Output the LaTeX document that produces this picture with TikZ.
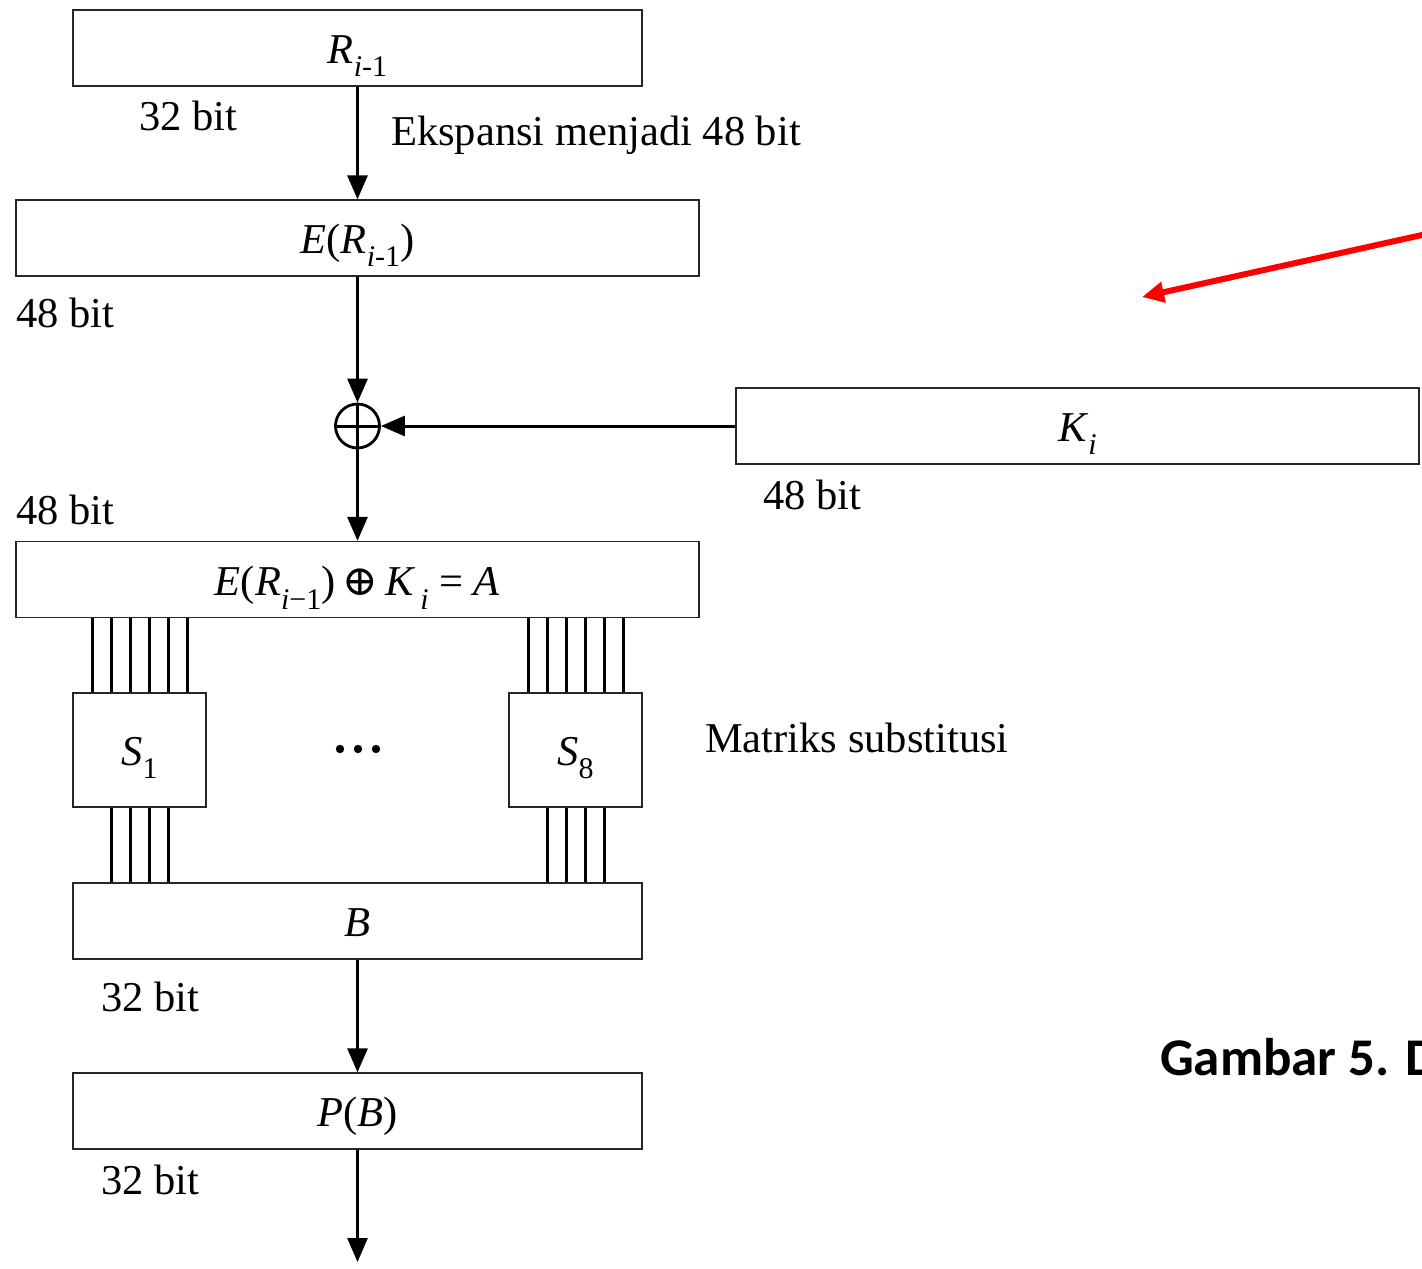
\documentclass[tikz,border=0pt]{standalone}
\usepackage{fontspec}
\usepackage{graphicx}
\setmainfont{Liberation Serif}
\newfontfamily\capfont{Carlito}
\newfontfamily\symf{DejaVu Serif}
\usetikzlibrary{arrows.meta}
\newcommand\sbx[1]{\raisebox{-0.32em}{\fontsize{30}{30}\selectfont #1}}
\begin{document}
\begin{tikzpicture}[x=1pt,y=-1pt,
  every node/.style={font=\fontsize{42.5}{50}\selectfont},
  box/.style={draw=black!85, line width=1.4pt, minimum height=76pt, inner sep=0pt, text height=30pt, text depth=0pt},
  arr/.style={line width=3pt, -{Triangle[length=24pt,width=20pt]}},
  wire/.style={line width=3pt},
  lbl/.style={anchor=base west, inner sep=0pt}]
\clip (0,0) rectangle (1422,1269);
% boxes
\node[box, minimum width=569pt] (r) at (357.5,48) {\textit{R}\sbx{\textit{i}-1}};
\node[box, minimum width=683pt] (e) at (357.5,238) {\textit{E}(\textit{R}\sbx{\textit{i}-1})};
\node[circle, draw, line width=2.8pt, minimum size=44pt, inner sep=0pt] (x) at (357.5,426) {};
\draw[line width=3pt] (x.north) -- (x.south) (x.west) -- (x.east);
\node[box, minimum width=683pt] (k) at (1077.5,426) {\textit{K}\sbx{\textit{i}}};
\node[box, minimum width=683pt, text height=32pt] (a) at (357.5,579.5) {\textit{E}(\textit{R}\sbx{\textit{i}−1})\,{\symf ⊕}\,\textit{K}\sbx{\,\textit{i}}\ =\ \textit{A}};
\node[box, minimum width=133pt, minimum height=114pt] (s1) at (139.5,750) {\textit{S}\sbx{1}};
\node[box, minimum width=133pt, minimum height=114pt] (s8) at (575.5,750) {\textit{S}\sbx{8}};
\node[box, minimum width=569pt] (b) at (357.5,921) {\textit{B}};
\node[box, minimum width=569pt] (p) at (357.5,1111) {\textit{P}(\textit{B})};
\coordinate (out) at (357.5,1262);
% dots
\fill (340,749) circle (4.2pt) (358,749) circle (4.2pt) (376,749) circle (4.2pt);
% arrows
\draw[arr] (r.south) -- (e.north);
\draw[arr] (e.south) -- (x.north);
\draw[arr] (k.west) -- (x.east);
\draw[arr] (x.south) -- (a.north);
\draw[arr] (b.south) -- (p.north);
\draw[arr] (p.south) -- (out);
% wires
\foreach \o in {-47.5,-28.5,-9.5,9.5,28.5,47.5} {
  \path (s1.north) ++(\o,0) coordinate (t1);
  \draw[wire] (t1) -- (t1 |- a.south);
  \path (s8.north) ++(\o,0) coordinate (t8);
  \draw[wire] (t8) -- (t8 |- a.south);
}
\foreach \o in {-28.5,-9.5,9.5,28.5} {
  \path (s1.south) ++(\o,0) coordinate (u1);
  \draw[wire] (u1) -- (u1 |- b.north);
  \path (s8.south) ++(\o,0) coordinate (u8);
  \draw[wire] (u8) -- (u8 |- b.north);
}
% labels
\node[lbl] (l1) at (139,130) {32 bit};
\node[lbl] (l2) at (391,145) {Ekspansi menjadi 48 bit};
\node[lbl] (l3) at (16,327) {48 bit};
\node[lbl] (l4) at (16,524) {48 bit};
\node[lbl] (l5) at (763,509) {48 bit};
\node[lbl] (l6) at (705,752) {Matriks substitusi};
\node[lbl] (l7) at (101,1011) {32 bit};
\node[lbl] (l8) at (101,1194) {32 bit};
% red arrow
\coordinate (rs) at (1450,228.8);
\coordinate (re) at (1142,297);
\draw[red, line width=6pt, -{Triangle[length=22pt,width=20pt]}] (rs) -- (re);
% caption
\node[lbl, font=\capfont\bfseries\fontsize{53}{60}\selectfont] (cap) at (1160,1075) {Gambar 5. D};
\end{tikzpicture}
\end{document}
